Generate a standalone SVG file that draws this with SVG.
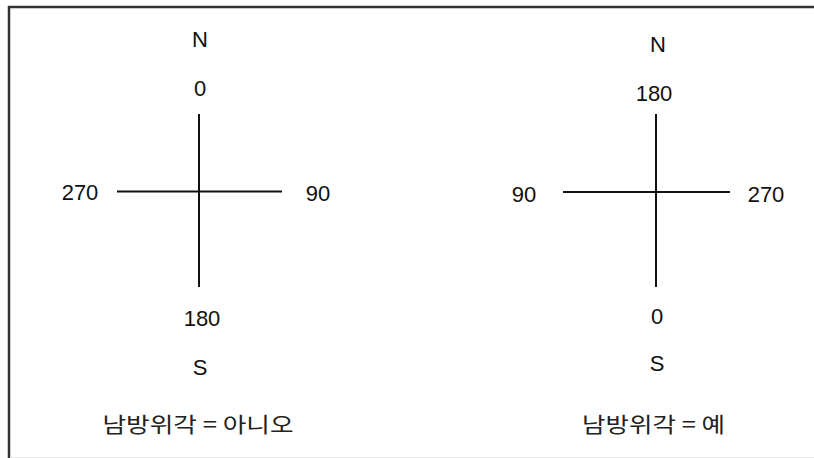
<svg xmlns="http://www.w3.org/2000/svg" width="814" height="458" viewBox="0 0 814 458">
<style>
.lbl{font-family:"Liberation Sans","DejaVu Sans",sans-serif;font-size:22px;fill:#111;text-anchor:middle;dominant-baseline:central}
.cap{font-family:"Noto Sans CJK KR","Liberation Serif",sans-serif;font-size:21px;fill:#222;text-anchor:middle;dominant-baseline:central}
.ax{stroke:#111;stroke-width:2;fill:none}
</style>
<rect width="814" height="458" fill="#fff"/>
<g id="frame">
<line x1="8" y1="7" x2="814" y2="7" stroke="#333" stroke-width="2.5"/>
<line x1="9" y1="6" x2="9" y2="458" stroke="#333" stroke-width="2.5"/>
<line x1="10" y1="457.5" x2="814" y2="457.5" stroke="#e6e6e6" stroke-width="1"/>
</g>
<g id="connectors">
<line class="ax" x1="199" y1="114" x2="199" y2="287"/>
<line class="ax" x1="117" y1="191.5" x2="282" y2="191.5"/>
<line class="ax" x1="656" y1="114" x2="656" y2="287"/>
<line class="ax" x1="563" y1="192" x2="730" y2="192"/>
</g>
<g id="compass-left">
<text class="lbl" x="200" y="39">N</text>
<text class="lbl" x="200" y="88">0</text>
<text class="lbl" x="80" y="192">270</text>
<text class="lbl" x="318" y="193">90</text>
<text class="lbl" x="202" y="318">180</text>
<text class="lbl" x="200" y="367">S</text>
<text class="cap" x="198" y="423" textLength="191" lengthAdjust="spacingAndGlyphs">남방위각 = 아니오</text>
</g>
<g id="compass-right">
<text class="lbl" x="658" y="44">N</text>
<text class="lbl" x="654" y="93">180</text>
<text class="lbl" x="524" y="194">90</text>
<text class="lbl" x="766" y="194">270</text>
<text class="lbl" x="657" y="316">0</text>
<text class="lbl" x="657" y="363">S</text>
<text class="cap" x="653.5" y="423" textLength="143" lengthAdjust="spacingAndGlyphs">남방위각 = 예</text>
</g>
</svg>
